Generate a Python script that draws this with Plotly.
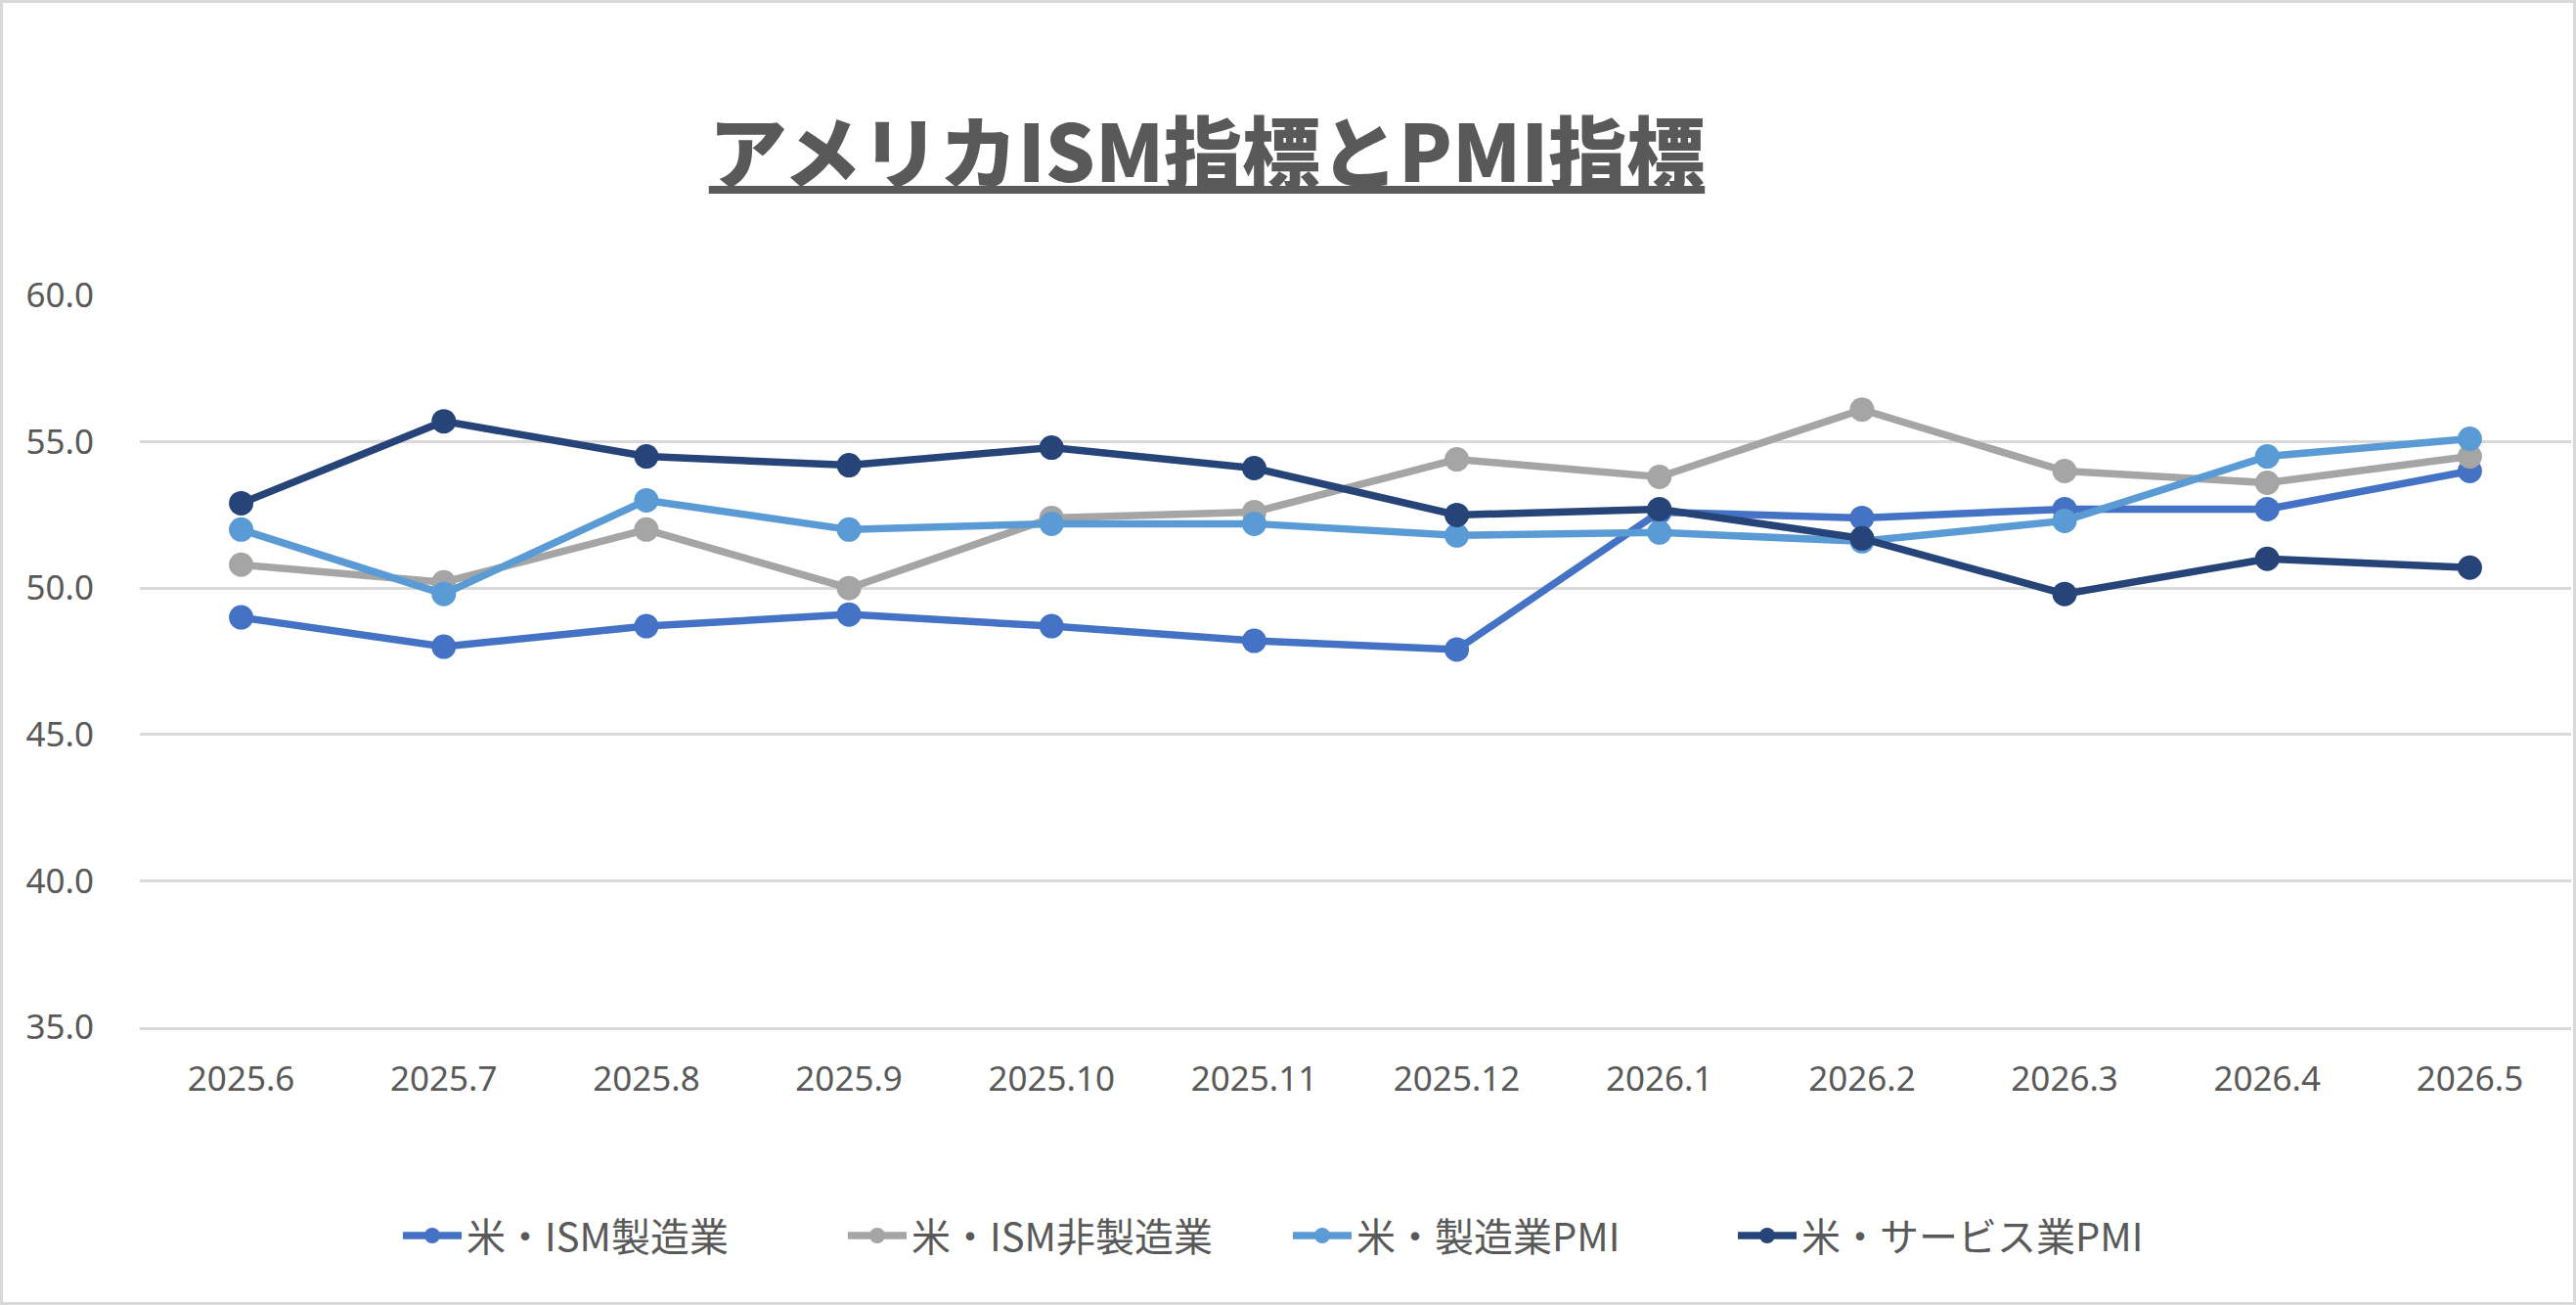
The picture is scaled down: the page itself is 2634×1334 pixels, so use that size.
import plotly.graph_objects as go

categories = ["2025.6", "2025.7", "2025.8", "2025.9", "2025.10", "2025.11",
              "2025.12", "2026.1", "2026.2", "2026.3", "2026.4", "2026.5"]

ism_mfg = [49.0, 48.0, 48.7, 49.1, 48.7, 48.2, 47.9, 52.6, 52.4, 52.7, 52.7, 54.0]
ism_nonmfg = [50.8, 50.2, 52.0, 50.0, 52.4, 52.6, 54.4, 53.8, 56.1, 54.0, 53.6, 54.5]
mfg_pmi = [52.0, 49.8, 53.0, 52.0, 52.2, 52.2, 51.8, 51.9, 51.6, 52.3, 54.5, 55.1]
svc_pmi = [52.9, 55.7, 54.5, 54.2, 54.8, 54.1, 52.5, 52.7, 51.7, 49.8, 51.0, 50.7]

series_names = ["米・ISM製造業", "米・ISM非製造業", "米・製造業PMI", "米・サービス業PMI"]
series_values = [ism_mfg, ism_nonmfg, mfg_pmi, svc_pmi]
series_colors = ["#4472C4", "#A5A5A5", "#5B9BD5", "#264478"]

title_text = "アメリカISM指標とPMI指標"

W, H = 2634, 1334
ML, MR, MT, MB = 143, 5, 302, 284

fig = go.Figure()
for name, vals, col in zip(series_names, series_values, series_colors):
    fig.add_trace(go.Scatter(
        x=categories, y=vals, name=name, mode="lines+markers",
        line=dict(color=col, width=7.5),
        marker=dict(color=col, size=25),
    ))

pw = W - ML - MR
ph = H - MT - MB
fig.add_shape(type="rect", xref="paper", yref="paper",
              x0=(1.5 - ML) / pw, x1=(W - 1.5 - ML) / pw,
              y0=-(MB - 1.5) / ph, y1=1 + (MT - 1.5) / ph,
              line=dict(color="#D9D9D9", width=3), fillcolor="rgba(0,0,0,0)",
              layer="below")

fig.update_layout(
    width=W, height=H,
    margin=dict(l=ML, r=MR, t=MT, b=MB, pad=0),
    paper_bgcolor="white", plot_bgcolor="white",
    font=dict(family="Noto Sans, Noto Sans CJK JP", color="#595959", size=35),
    title=dict(
        text="<u>" + title_text + "</u>",
        font=dict(family="Noto Sans CJK JP", size=80, color="#595959", weight=900),
        x=1234 / W, xref="container", xanchor="center",
        y=1 - 158 / H, yref="container", yanchor="middle",
    ),
    showlegend=True,
    legend=dict(
        orientation="h", x=0.5, xref="container", xanchor="center",
        y=1 - 1263 / H, yref="container", yanchor="middle",
        font=dict(family="Noto Sans CJK JP, Noto Sans", size=40, color="#595959"),
        itemwidth=60, entrywidthmode="pixels", entrywidth=380,
        traceorder="normal", bgcolor="rgba(0,0,0,0)",
    ),
    xaxis=dict(
        type="category", range=[-0.5, 11.5],
        showgrid=False, showline=True, linecolor="#D9D9D9", linewidth=2.5,
        ticks="", tickfont=dict(size=35, color="#595959"),
        ticklabelstandoff=20, zeroline=False,
    ),
    yaxis=dict(
        range=[35, 60], dtick=5, tick0=35, tickformat=".1f",
        showgrid=True, gridcolor="#D9D9D9", gridwidth=2.5,
        showline=False, zeroline=False, ticks="",
        tickfont=dict(size=35, color="#595959"),
        ticklabelstandoff=46,
    ),
)

fig.write_html("out.html")
